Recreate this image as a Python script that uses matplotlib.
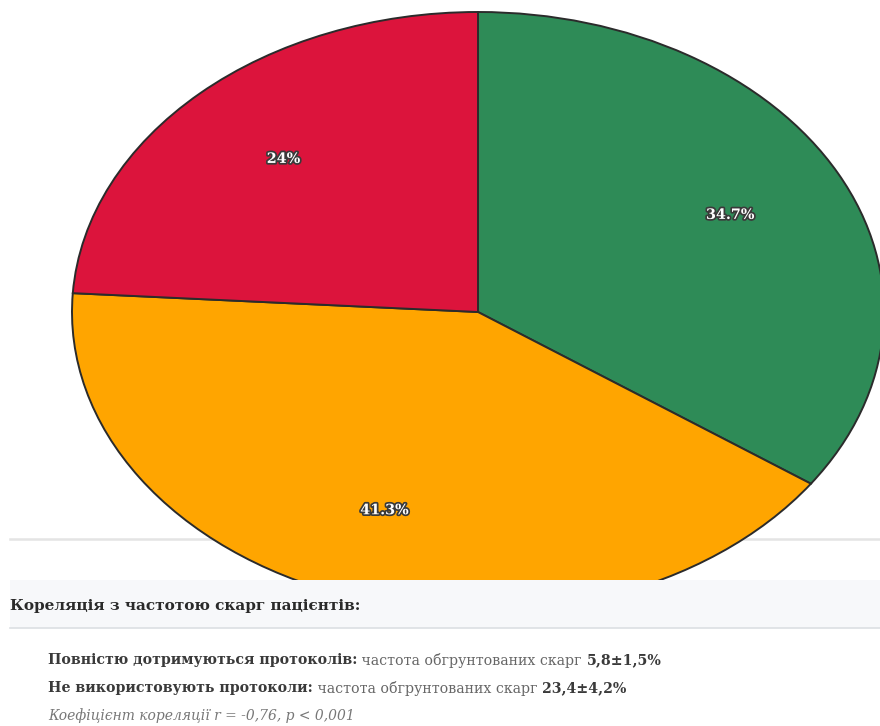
import matplotlib
matplotlib.use("Agg")
import matplotlib.pyplot as plt
import matplotlib.patheffects as pe
from matplotlib.lines import Line2D

# Data
categories = ["Повністю дотримуються протоколів", "Частково дотримуються", "Не використовують протоколи"]
shares = [34.7, 41.3, 24.0]
share_labels = ["34.7%", "41.3%", "24%"]
colors = ["#2E8B57", "#FFA500", "#DC143C"]

heading = "Кореляція з частотою скарг пацієнтів:"
rows = [
    ("Повністю дотримуються протоколів:", " частота обгрунтованих скарг ", "5,8±1,5%"),
    ("Не використовують протоколи:", " частота обгрунтованих скарг ", "23,4±4,2%"),
]
footnote = "Коефіцієнт кореляції r = -0,76, p < 0,001"

W, H = 880, 726
fig = plt.figure(figsize=(W / 100, H / 100), dpi=100)
fig.patch.set_facecolor("white")


def fx(px):
    return px / W


def fy(py):
    return 1 - py / H


# Thin separator behind the pie
fig.add_artist(Line2D([fx(10), fx(880)], [fy(539), fy(539)], color="#e4e4e4",
                      lw=1.8, zorder=-1))

# Pie (stretched horizontally)
left, right, top, bottom = 72, 884, 12, 612
ax = fig.add_axes([fx(left), fy(bottom), (right - left) / W, (bottom - top) / H])
ax.set_facecolor("none")
wedges, texts, autotexts = ax.pie(
    shares, colors=colors, startangle=90, counterclock=False,
    labels=None, autopct=lambda p: "", pctdistance=0.7,
    wedgeprops=dict(edgecolor="#2b2b2b", linewidth=1.4),
)
for t, lab in zip(autotexts, share_labels):
    t.set_text(lab)
    t.set_color("white")
    t.set_fontfamily("DejaVu Serif")
    t.set_fontweight("bold")
    t.set_fontsize(10.3)
    t.set_path_effects([pe.withStroke(linewidth=2.5, foreground="#3a3a3a")])
ax.set_aspect("auto")
ax.set_xlim(-1, 1)
ax.set_ylim(-1, 1)
ax.axis("off")

# Heading panel over the bottom of the pie
panel = fig.add_axes([fx(10), fy(628), (W - 10) / W, (628 - 580) / H], zorder=5)
panel.set_facecolor("#f7f8fa")
panel.set_xticks([])
panel.set_yticks([])
for s in ["top", "left", "right"]:
    panel.spines[s].set_visible(False)
panel.spines["bottom"].set_color("#dcdfe3")
panel.spines["bottom"].set_linewidth(1.2)

serif = "DejaVu Serif"
fig.text(fx(10), fy(606), heading, fontsize=11, fontweight="bold", family=serif,
         color="#2a2a2a", va="center", ha="left", zorder=6)

renderer = fig.canvas.get_renderer()
row_y = [660, 688]
for (b1, n1, b2), y in zip(rows, row_y):
    x = fx(48)
    for txt, weight, col in [(b1, "bold", "#3a3a3a"), (n1, "normal", "#666666"), (b2, "bold", "#3a3a3a")]:
        t = fig.text(x, fy(y), txt, fontsize=10.2, fontweight=weight, family=serif,
                     color=col, va="center", ha="left")
        bb = t.get_window_extent(renderer=renderer)
        x = x + bb.width / W

fig.text(fx(48), fy(716), footnote, fontsize=10, style="italic", family=serif,
         color="#777777", va="center", ha="left")

fig.savefig("out.png", dpi=100, facecolor="white")
